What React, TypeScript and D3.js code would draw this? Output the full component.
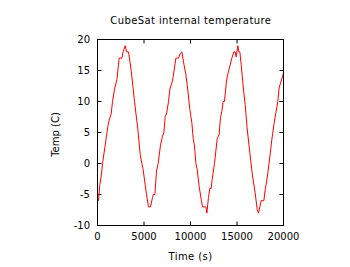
import React from "react";
import * as d3 from "d3";

const timeS: number[] = [
  0, 100, 255, 400, 540, 830, 1115, 1255, 1470, 1615, 1830, 2085, 2330, 2620, 2760, 2980, 3120, 3335,
  3625, 3980, 4340, 4590, 4770, 4910, 5130, 5270, 5485, 5700, 5915, 6000, 6170, 6345, 6525, 6775,
  6990, 7135, 7280, 7420, 7635, 7780, 8000, 8140, 8430, 8710, 8920, 9070, 9290, 9500, 9720, 9930,
  10150, 10290, 10430, 10580, 10720, 10930, 11150, 11290, 11650, 11760, 11930, 12080, 12225, 12330,
  12580, 12870, 13080, 13225, 13370, 13515, 13650, 13870, 14010, 14230, 14450, 14660, 14800, 14910,
  15090, 15200, 15305, 15450, 15660, 15880, 16090, 16380, 16670, 16950, 17170, 17310, 17460, 17600,
  17890, 18030, 18170, 18320, 18540, 18750, 18970, 19180, 19390, 19530, 19750, 20000,
];
const tempC: number[] = [
  -6, -6, -3.4, -2, 0, 3, 6, 7, 8, 10, 12, 13.5, 17, 17, 18, 19, 18, 18,
  15, 10, 5.5, 1.5, 0, -1, -3.5, -5, -7, -7, -5.5, -5, -5, -1.2, 0, 3,
  4.4, 5, 7.6, 8, 10, 12, 13, 14, 17, 17, 17.8, 18, 16, 14.4, 11.7, 8.7,
  6.5, 4, 2.8, 0, -1, -3.7, -5.8, -7, -7, -8, -5.5, -4, -4, -2.6,
  0, 4, 4.7, 7.4, 8.4, 10, 10, 13.3, 14.4, 15.7, 17, 18, 18, 17.2,
  19, 18, 18, 16, 12.5, 9.5, 5.7, 1.7, -2, -4.7, -7.4, -8, -7, -6,
  -6, -4.2, -3.1, -1.5, 1.2, 3.9, 6.3, 8.2, 10, 12.2, 13.3, 14.6,
];
const xTicks: number[] = [0, 5000, 10000, 15000, 20000];
const yTicks: number[] = [-10, -5, 0, 5, 10, 15, 20];
const titleText = "CubeSat internal temperature";
const xLabel = "Time (s)";
const yLabel = "Temp (C)";

const W = 350;
const H = 267;
const L = 97.5, R = 283.5, T = 39.5, B = 225.5;
const FONT = "DejaVu Sans, sans-serif";

export default function App() {
  const x = d3.scaleLinear().domain([0, 20000]).range([L, R]);
  const y = d3.scaleLinear().domain([-10, 20]).range([B, T]);
  const pts = timeS.map((t, i) => [t, tempC[i]] as [number, number]);
  const line = d3
    .line<[number, number]>()
    .x((d) => x(d[0]))
    .y((d) => y(d[1]));
  const tl = 4;
  return (
    <svg
      width={W}
      height={H}
      style={{ position: "absolute", left: 0, top: 0, background: "#fff" }}
      fontFamily={FONT}
    >
      <rect x={0} y={0} width={W} height={H} fill="#fff" />
      <text x={(L + R) / 2 + 0.3} y={24} fontSize={10} textAnchor="middle" fill="#000" letterSpacing={0.4}>
        {titleText}
      </text>
      {xTicks.map((t) => (
        <g key={"x" + t}>
          <line x1={x(t)} x2={x(t)} y1={B} y2={B - tl} stroke="#000" strokeWidth={1} />
          <line x1={x(t)} x2={x(t)} y1={T} y2={T + tl} stroke="#000" strokeWidth={1} />
          <text x={x(t)} y={240} fontSize={10} textAnchor="middle" fill="#000">
            {t}
          </text>
        </g>
      ))}
      {yTicks.map((t) => (
        <g key={"y" + t}>
          <line x1={L} x2={L + tl} y1={y(t)} y2={y(t)} stroke="#000" strokeWidth={1} />
          <line x1={R} x2={R - tl} y1={y(t)} y2={y(t)} stroke="#000" strokeWidth={1} />
          <text x={90} y={y(t)} dy="0.35em" fontSize={10} textAnchor="end" fill="#000">
            {t}
          </text>
        </g>
      ))}
      <path d={line(pts) || ""} fill="none" stroke="#ff0000" strokeWidth={1} strokeLinejoin="round" />
      <rect x={L} y={T} width={R - L} height={B - T} fill="none" stroke="#000" strokeWidth={1} />
      <text x={(L + R) / 2} y={260} fontSize={10} textAnchor="middle" fill="#000" letterSpacing={0.4}>
        {xLabel}
      </text>
      <text
        transform={`translate(59,134.5) rotate(-90)`}
        fontSize={10}
        textAnchor="middle"
        fill="#000"
      >
        {yLabel}
      </text>
    </svg>
  );
}
